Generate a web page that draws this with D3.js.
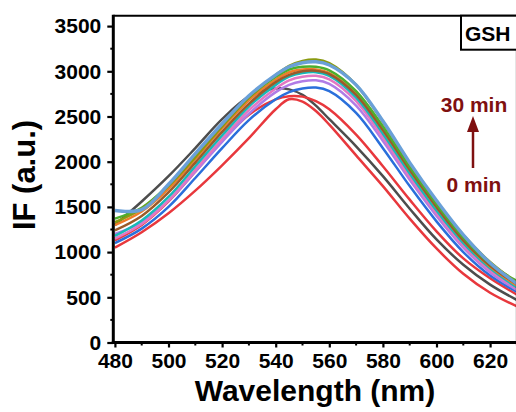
<!DOCTYPE html>
<html><head><meta charset="utf-8">
<script src="https://cdn.jsdelivr.net/npm/d3@7"></script>
<style>body{margin:0;background:#fff}svg{display:block}text{font-family:"Liberation Sans",Arial,sans-serif;font-weight:bold}</style>
</head><body><svg id="c" width="516" height="412"></svg>
<script>
const wavelengths = [480,490,500,510,520,530,540,545,550,555,560,570,580,590,600,610,620,630];
const sRed1   = [1050,1220,1430,1680,1960,2260,2580,2690,2665,2560,2410,2070,1730,1370,1040,760,550,400];
const sGrey   = [1300,1560,1840,2150,2470,2720,2810,2800,2740,2620,2470,2170,1840,1480,1140,860,640,470];
const sRed2   = [1130,1300,1560,1890,2230,2520,2690,2725,2720,2670,2580,2300,1950,1580,1230,930,710,530];
const sBlue   = [1100,1260,1500,1820,2150,2460,2690,2770,2810,2820,2780,2540,2150,1730,1340,1000,740,560];
const sPurple = [1200,1330,1570,1890,2220,2530,2770,2850,2890,2900,2860,2620,2230,1800,1400,1050,775,580];
const sPink   = [1150,1310,1570,1910,2250,2570,2810,2900,2940,2950,2910,2670,2270,1830,1430,1070,795,600];
const sTeal   = [1180,1350,1610,1950,2290,2610,2850,2940,2980,2990,2950,2710,2310,1870,1460,1100,820,610];
const sOrange = [1300,1450,1700,2030,2370,2680,2910,2990,3020,3020,2980,2750,2350,1910,1500,1130,840,630];
const sBrown  = [1240,1400,1660,1990,2330,2640,2880,2960,3000,3005,2970,2740,2350,1910,1500,1130,850,645];
const sGreen  = [1370,1490,1740,2060,2400,2710,2940,3020,3050,3050,3010,2780,2390,1940,1530,1160,870,680];
const sOlive  = [1330,1480,1730,2050,2390,2710,2960,3060,3115,3130,3090,2850,2440,1980,1560,1190,890,660];
const sLBlue  = [1460,1470,1750,2090,2420,2730,2960,3050,3095,3105,3070,2850,2450,1990,1570,1190,880,650];
const allSeries = [sRed1,sGrey,sRed2,sBlue,sPurple,sPink,sTeal,sOrange,sBrown,sGreen,sOlive,sLBlue];
const allColors = ["#e8383d","#4d4d4d","#e8383d","#2a6fdb","#b07ce6","#e377c2","#17b8b8","#f07c2a","#9a5a2a","#4caf2e","#8a9a10","#6aa0d8"];
const xTicks = [480,500,520,540,560,580,600,620];
const yTicks = [0,500,1000,1500,2000,2500,3000,3500];
const xLabel = "Wavelength (nm)", yLabel = "IF (a.u.)";
const tagText = "GSH", annTop = "30 min", annBottom = "0 min";

const svg = d3.select("#c");
const L=113.3, R=516.9, T=15.7, B=342.5;
const x = d3.scaleLinear().domain([479.4,630]).range([L,R]);
const y = d3.scaleLinear().domain([0,3615]).range([B,T]);

svg.append("clipPath").attr("id","clip").append("rect").attr("x",L).attr("y",T).attr("width",R-L).attr("height",B-T);
const line = d3.line().x((d,i)=>x(wavelengths[i])).y(d=>y(d)).curve(d3.curveCatmullRom.alpha(0.5));
const g = svg.append("g").attr("clip-path","url(#clip)");
allSeries.forEach((s,i)=>{
  g.append("path").attr("d",line(s)).attr("fill","none").attr("stroke",allColors[i])
   .attr("stroke-width", i===allSeries.length-1?3.4:2.5).attr("stroke-linejoin","round");
});

svg.append("line").attr("x1",L).attr("x2",R).attr("y1",T).attr("y2",T).attr("stroke","#000").attr("stroke-width",2);
svg.append("line").attr("x1",R).attr("x2",R).attr("y1",T).attr("y2",B).attr("stroke","#000").attr("stroke-width",2);

const xAxis = d3.axisBottom(x).tickValues(xTicks).tickSize(5).tickPadding(6).tickFormat(d3.format("d"));
const gx = svg.append("g").attr("transform",`translate(0,${B})`).call(xAxis);
gx.selectAll(".tick text").attr("font-size",21).attr("fill","#000");
gx.select(".domain").remove();
const xMinor = d3.range(490,631,20);
gx.selectAll(".mnr").data(xMinor).join("line").attr("x1",d=>x(d)).attr("x2",d=>x(d)).attr("y1",0).attr("y2",3).attr("stroke","#000").attr("stroke-width",2);
gx.selectAll(".tick line").attr("stroke-width",2.2);

const yAxis = d3.axisLeft(y).tickValues(yTicks).tickSize(6).tickPadding(6).tickFormat(d3.format("d"));
const gy = svg.append("g").attr("transform",`translate(${L},0)`).call(yAxis);
gy.selectAll(".tick text").attr("font-size",21).attr("fill","#000");
gy.select(".domain").remove();
const yMinor = d3.range(250,3600,500);
gy.selectAll(".mnr").data(yMinor).join("line").attr("x1",0).attr("x2",-3).attr("y1",d=>y(d)).attr("y2",d=>y(d)).attr("stroke","#000").attr("stroke-width",2);
gy.selectAll(".tick line").attr("stroke-width",2.2);

svg.append("line").attr("x1",L).attr("x2",L).attr("y1",T-1).attr("y2",B+1.5).attr("stroke","#000").attr("stroke-width",3);
svg.append("line").attr("x1",L-1.5).attr("x2",R).attr("y1",B).attr("y2",B).attr("stroke","#000").attr("stroke-width",3);

svg.append("text").attr("x",315).attr("y",401).attr("text-anchor","middle").attr("font-size",30).text(xLabel);
svg.append("text").attr("transform","translate(35,175) rotate(-90)").attr("text-anchor","middle").attr("font-size",31).text(yLabel);

svg.append("rect").attr("x",461).attr("y",T).attr("width",62).attr("height",34).attr("fill","#fff").attr("stroke","#000").attr("stroke-width",2);
svg.append("text").attr("x",465).attr("y",41).attr("font-size",21).text(tagText);

const dark = "#7f1010";
svg.append("text").attr("x",474).attr("y",112).attr("text-anchor","middle").attr("font-size",21).attr("fill",dark).text(annTop);
svg.append("text").attr("x",474).attr("y",192).attr("text-anchor","middle").attr("font-size",21).attr("fill",dark).text(annBottom);
svg.append("line").attr("x1",473).attr("x2",473).attr("y1",168).attr("y2",128).attr("stroke",dark).attr("stroke-width",2.5);
svg.append("path").attr("d","M473,116 L467,132 L479,132 Z").attr("fill",dark);
</script></body></html>
